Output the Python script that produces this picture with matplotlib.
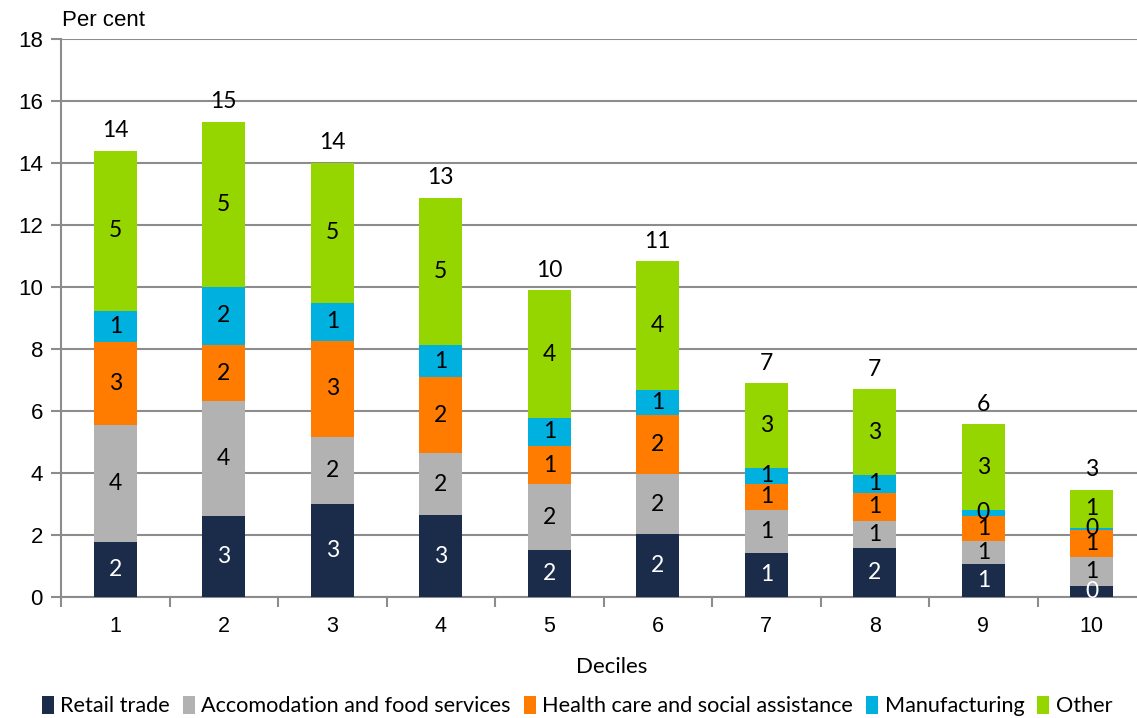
import matplotlib
matplotlib.use("Agg")
import matplotlib.pyplot as plt
import numpy as np

deciles = ["1", "2", "3", "4", "5", "6", "7", "8", "9", "10"]
series_names = ["Retail trade", "Accomodation and food services",
                "Health care and social assistance", "Manufacturing", "Other"]
retail = [1.78, 2.60, 3.00, 2.64, 1.51, 2.02, 1.42, 1.57, 1.05, 0.35]
accom = [3.78, 3.71, 2.15, 2.01, 2.12, 1.95, 1.38, 0.89, 0.75, 0.93]
health = [2.68, 1.82, 3.12, 2.44, 1.25, 1.90, 0.86, 0.91, 0.81, 0.88]
manuf = [0.98, 1.87, 1.22, 1.04, 0.89, 0.81, 0.51, 0.56, 0.20, 0.07]
other = [5.18, 5.33, 4.51, 4.74, 4.12, 4.15, 2.72, 2.77, 2.76, 1.23]

colors = ["#1B2B4A", "#B2B2B2", "#FF7C00", "#00B0DE", "#96D600"]
label_colors = ["white", "black", "black", "black", "black"]

W, H = 1137, 718
fig = plt.figure(figsize=(W / 100, H / 100), dpi=100)
left_px, right_px, top_px, bot_px = 61, 1146, 39, 597
ax = fig.add_axes([left_px / W, 1 - bot_px / H, (right_px - left_px) / W, (bot_px - top_px) / H])

grid_c = "#8C8C8C"
x = np.arange(len(deciles))
data = [retail, accom, health, manuf, other]
bottom = np.zeros(len(deciles))
lab_font = "Lato"
for vals, col, lc, name in zip(data, colors, label_colors, series_names):
    vals = np.array(vals)
    ax.bar(x, vals, width=0.4, bottom=bottom, color=col, label=name, zorder=3)
    for xi, b, v in zip(x, bottom, vals):
        ax.text(xi, b + v / 2, f"{v:.0f}", ha="center", va="center",
                color=lc, fontsize=16.5, family=lab_font, zorder=4)
    bottom = bottom + vals

for xi, t in zip(x, bottom):
    ax.annotate(f"{t:.0f}", (xi, t), xytext=(0, 7), textcoords="offset points",
                ha="center", va="bottom", fontsize=16.5, family=lab_font)

ax.set_xlim(-0.5, len(deciles) - 0.5)
ax.set_ylim(0, 18)
ax.set_yticks(np.arange(0, 19, 2))
ax.set_xticks(x)
ax.set_xticklabels(deciles)
ax.set_xticks(np.arange(-0.5, len(deciles), 1), minor=True)
ax.tick_params(axis="x", which="major", length=0, pad=14, labelsize=15.5)
ax.tick_params(axis="x", which="minor", length=7, width=1.5, color=grid_c)
ax.tick_params(axis="y", length=7, width=1.5, color=grid_c, labelsize=16, pad=6)
for lab in ax.get_xticklabels() + ax.get_yticklabels():
    lab.set_family("Liberation Sans")

ax.grid(axis="y", color=grid_c, linewidth=1.5, zorder=0)
for s in ["top", "right"]:
    ax.spines[s].set_visible(False)
ax.spines["left"].set_color(grid_c)
ax.spines["left"].set_linewidth(1.5)
ax.spines["bottom"].set_color(grid_c)
ax.spines["bottom"].set_linewidth(1.5)

fig.text(62 / W, 1 - 20 / H, "Per cent", ha="left", va="center",
         fontsize=16, family="Liberation Sans")
fig.text(612 / W, 1 - 667 / H, "Deciles", ha="center", va="center",
         fontsize=16, family=lab_font)

handles, labels = ax.get_legend_handles_labels()
leg = fig.legend(handles, labels, loc="center", bbox_to_anchor=(577 / W, 1 - 706 / H),
                 ncol=5, frameon=False, handlelength=0.55, handleheight=0.9,
                 handletextpad=0.3, columnspacing=0.6,
                 prop={"family": lab_font, "size": 15.6})

fig.savefig("out.png", dpi=100)
